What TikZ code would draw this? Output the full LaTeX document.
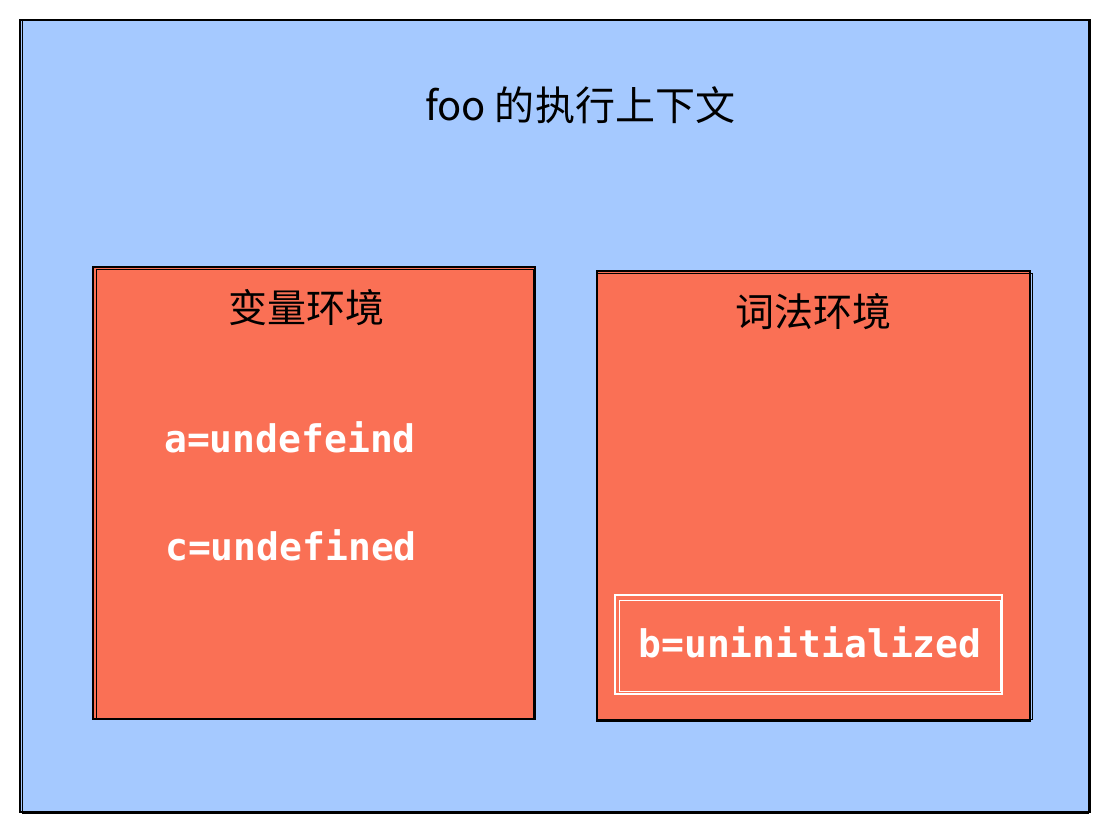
\documentclass[tikz,border=0pt]{standalone}
\usepackage{fontspec}
\setmonofont{DejaVu Sans Mono}
\newfontfamily\cjk{Noto Sans CJK SC}
\usepackage{xcolor}
\usetikzlibrary{calc}

\definecolor{ctxblue}{RGB}{165,201,255}
\definecolor{envred}{RGB}{250,112,85}

\tikzset{
    envbox/.style={fill=envred, draw=black, line width=1pt},
    envtitle/.style={font=\cjk\fontsize{19.5}{22}\selectfont, text=black},
    varlabel/.style={font=\ttfamily\bfseries\fontsize{19}{22}\selectfont, text=white}
}

\begin{document}
\begin{tikzpicture}[x=0.5pt,y=-0.5pt]
        \useasboundingbox[fill=white] (0,0) rectangle (1109,834);

        \coordinate (A) at (20,20);
        \coordinate (B) at (1090,812);
        \coordinate (C) at (93,267);
        \coordinate (D) at (535,719);
        \coordinate (E) at (597,271);
        \coordinate (F) at (1030,721);
        \coordinate (G) at (615,595);
        \coordinate (H) at (1002,694);

        % outer context
        \draw[fill=ctxblue, line width=1.2pt] (A) rectangle (B);
        \draw[line width=0.4pt] ($(A)+(2,-1)$) rectangle ($(B)+(-2,1)$);

        % the two environments
        \draw[envbox] (C) rectangle (D);
        \draw[envbox] (E) rectangle (F);
        \draw[line width=0.4pt] ($(C)+(3,2)$) rectangle ($(D)+(-2,-1)$);
        \draw[line width=0.4pt] ($(E)+(-1,2)$) rectangle ($(F)+(2,-2)$);

        % white box for b
        \draw[white, line width=0.9pt] (G) rectangle (H);
        \draw[white, line width=0.5pt] ($(G)+(4,5)$) rectangle ($(H)+(-2,-3)$);

        \node[font=\cjk\fontsize{20}{24}\selectfont] (title) at (580,105) {foo 的执行上下文};

        \node[envtitle] (varenv) at (306,308) {变量环境};
        \node[envtitle] (lexenv) at (813,312) {词法环境};

        \node[varlabel] (a) at (290,437) {a=undefeind};
        \node[varlabel] (c) at (291,545) {c=undefined};
        \node[varlabel] (b) at (810,642) {b=uninitialized};
    \end{tikzpicture}
\end{document}
